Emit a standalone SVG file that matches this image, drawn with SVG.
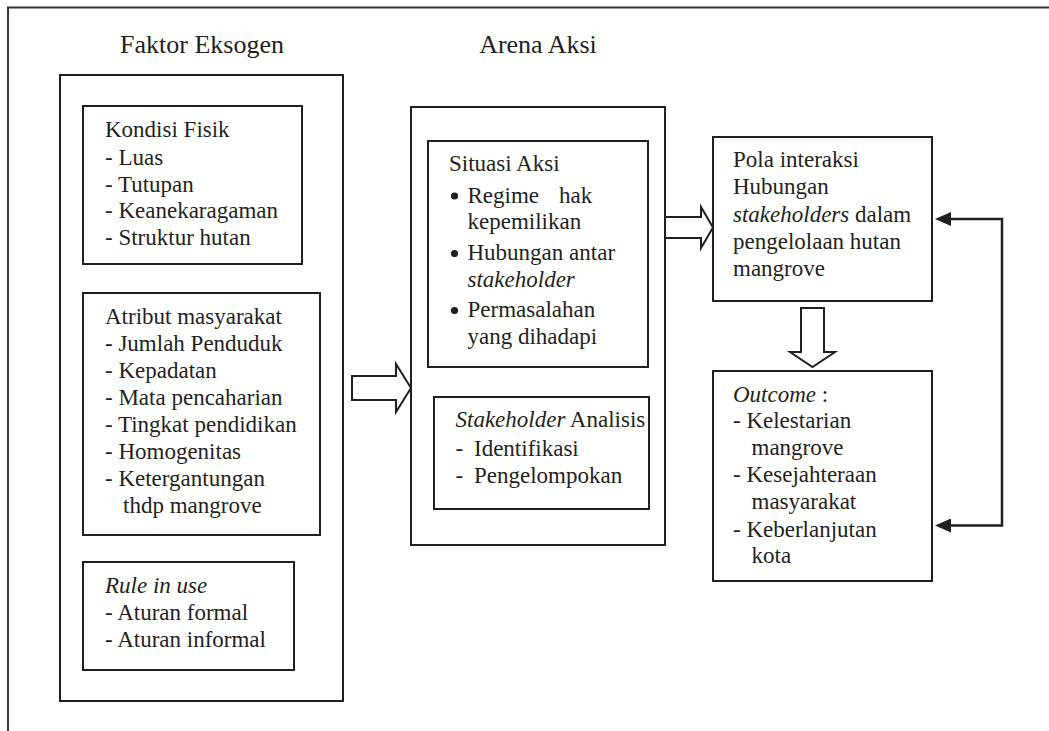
<svg xmlns="http://www.w3.org/2000/svg" width="1049" height="731" viewBox="0 0 1049 731">
<defs>
<style>
.box{fill:none;stroke:#231f20;stroke-width:2}
.blk{fill:#fff;stroke:#231f20;stroke-width:2;stroke-linejoin:miter}
.t{font-family:'Liberation Serif',Tinos,'Noto Serif','DejaVu Serif',FreeSerif,Times,serif;font-size:23px;fill:#231f20}
.ttl{font-family:'Liberation Serif',Tinos,'Noto Serif','DejaVu Serif',FreeSerif,Times,serif;font-size:26px;fill:#231f20}
.i{font-style:italic}
.fb{fill:none;stroke:#231f20;stroke-width:2.5}
.dot{fill:#231f20}
</style>
<marker id="ah" markerUnits="userSpaceOnUse" markerWidth="16" markerHeight="14" refX="2" refY="7" orient="auto-start-reverse">
<path d="M0,0 L16,7 L0,14 z" fill="#231f20"/>
</marker>
</defs>
<rect width="1049" height="731" fill="#fff"/>
<path d="M8 731 V7.5 H1049" fill="none" stroke="#333" stroke-width="2"/>

<g id="title-exogen"><text class="ttl" x="202" y="53" text-anchor="middle">Faktor Eksogen</text></g>
<g id="title-arena"><text class="ttl" x="538" y="53" text-anchor="middle">Arena Aksi</text></g>

<g id="exogen">
<rect class="box" x="60" y="75" width="283" height="626"/>
</g>
<g id="kondisi-fisik">
<rect class="box" x="83" y="106" width="219" height="158"/>
<text class="t">
<tspan x="105" y="137">Kondisi Fisik</tspan>
<tspan x="105" y="164.5">- Luas</tspan>
<tspan x="105" y="191.5">- Tutupan</tspan>
<tspan x="105" y="218">- Keanekaragaman</tspan>
<tspan x="105" y="245">- Struktur hutan</tspan>
</text>
</g>
<g id="atribut-masyarakat">
<rect class="box" x="83" y="293" width="237" height="242"/>
<text class="t">
<tspan x="105" y="324">Atribut masyarakat</tspan>
<tspan x="105" y="351">- Jumlah Penduduk</tspan>
<tspan x="105" y="378">- Kepadatan</tspan>
<tspan x="105" y="405">- Mata pencaharian</tspan>
<tspan x="105" y="432">- Tingkat pendidikan</tspan>
<tspan x="105" y="459">- Homogenitas</tspan>
<tspan x="105" y="486">- Ketergantungan</tspan>
<tspan x="123" y="512.5">thdp mangrove</tspan>
</text>
</g>
<g id="rule-in-use">
<rect class="box" x="83" y="562" width="211" height="108"/>
<text class="t">
<tspan x="105" y="592.5" class="i">Rule in use</tspan>
<tspan x="105" y="620">- Aturan formal</tspan>
<tspan x="105" y="647">- Aturan informal</tspan>
</text>
</g>

<g id="arena-aksi">
<rect class="box" x="411" y="107" width="254" height="438"/>
</g>
<g id="situasi-aksi">
<rect class="box" x="428" y="141" width="220" height="226"/>
<circle class="dot" cx="454.5" cy="196" r="3.6"/>
<circle class="dot" cx="454.5" cy="253.5" r="3.6"/>
<circle class="dot" cx="454.5" cy="310.5" r="3.6"/>
<text class="t">
<tspan x="449" y="170.5">Situasi Aksi</tspan>
<tspan x="467.5" y="202.5">Regime</tspan><tspan x="559" y="202.5">hak</tspan>
<tspan x="467.5" y="229">kepemilikan</tspan>
<tspan x="467.5" y="260">Hubungan antar</tspan>
<tspan x="467.5" y="286.5" class="i">stakeholder</tspan>
<tspan x="467.5" y="317">Permasalahan</tspan>
<tspan x="467.5" y="344">yang dihadapi</tspan>
</text>
</g>
<g id="stakeholder-analisis">
<rect class="box" x="434" y="397" width="215" height="112"/>
<text class="t">
<tspan x="455.5" y="427" class="i">Stakeholder</tspan><tspan> Analisis</tspan>
<tspan x="455.5" y="455.5">-</tspan><tspan x="474" y="455.5">Identifikasi</tspan>
<tspan x="455.5" y="483">-</tspan><tspan x="474" y="483">Pengelompokan</tspan>
</text>
</g>

<g id="pola-interaksi">
<rect class="box" x="713" y="137" width="219" height="164"/>
<text class="t">
<tspan x="733" y="167">Pola interaksi</tspan>
<tspan x="733" y="194">Hubungan</tspan>
<tspan x="733" y="221.5" class="i">stakeholders</tspan><tspan> dalam</tspan>
<tspan x="733" y="249">pengelolaan hutan</tspan>
<tspan x="733" y="276">mangrove</tspan>
</text>
</g>
<g id="outcome">
<rect class="box" x="713" y="371" width="219" height="210"/>
<text class="t">
<tspan x="733" y="401.5" class="i">Outcome</tspan><tspan> :</tspan>
<tspan x="733" y="428">- Kelestarian</tspan>
<tspan x="751.5" y="455">mangrove</tspan>
<tspan x="733" y="482">- Kesejahteraan</tspan>
<tspan x="751.5" y="509">masyarakat</tspan>
<tspan x="733" y="536.5">- Keberlanjutan</tspan>
<tspan x="751.5" y="563">kota</tspan>
</text>
</g>

<g id="connectors">
<polygon class="blk" points="352,376 396,376 396,364 411,388 396,412 396,400 352,400"/>
<polygon class="blk" points="665,217 701,217 701,207 713,227.5 701,248 701,238 665,238"/>
<polygon class="blk" points="801,308 824,308 824,352 835,352 812.5,367 790,352 801,352"/>
<path class="fb" d="M949 219 H1002 V525.5 H949" marker-start="url(#ah)" marker-end="url(#ah)"/>
</g>
</svg>
